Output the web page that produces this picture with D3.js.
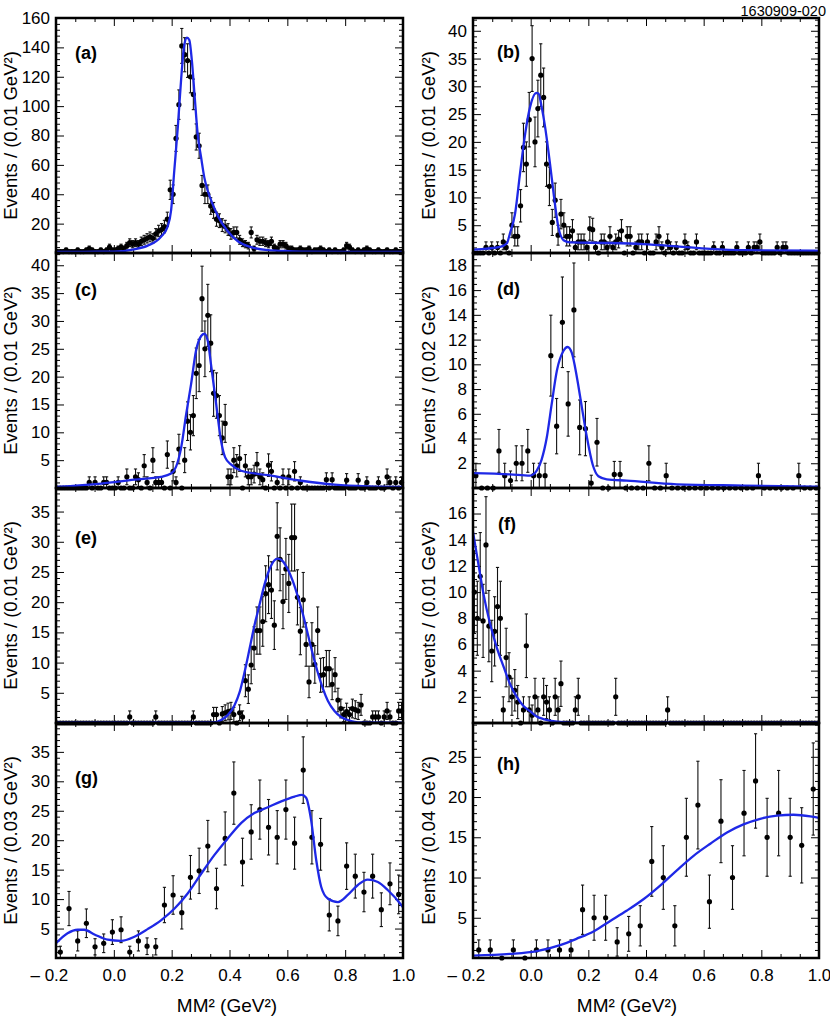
<!DOCTYPE html>
<html><head><meta charset="utf-8">
<script src="https://cdn.jsdelivr.net/npm/d3@7"></script>
<style>
body{margin:0;background:#fff;}
svg{display:block;font-family:"Liberation Sans",Arial,Helvetica,sans-serif;}
</style></head><body>
<svg id="chart" width="830" height="1019"></svg>
<script>
// ---------------- data ----------------
const xMajorTicks = [-0.2, 0.0, 0.2, 0.4, 0.6, 0.8, 1.0];
const xTickLabels = ["\u2013 0.2", "0.0", "0.2", "0.4", "0.6", "0.8", "1.0"];
const panelLetters = ["(a)", "(b)", "(c)", "(d)", "(e)", "(f)", "(g)", "(h)"];
const yTitles = [
  "Events / (0.01 GeV\u00B2)", "Events / (0.01 GeV\u00B2)",
  "Events / (0.01 GeV\u00B2)", "Events / (0.02 GeV\u00B2)",
  "Events / (0.01 GeV\u00B2)", "Events / (0.01 GeV\u00B2)",
  "Events / (0.03 GeV\u00B2)", "Events / (0.04 GeV\u00B2)"
];
const xTitle = "MM\u00B2 (GeV\u00B2)";
const figureCode = "1630909-020";

// bin contents, first bin starts at MM^2 = -0.2
const countsA = [1,1,1,2,1,1,1,2,1,1, 2,3,2,1,1,2,1,2,4,2, 2,3,4,3,5,7,6,7,6,8,
  9,10,11,10,13,15,16,18,23,43, 40,78,101,141,135,131,120,108,79,73,
  46,40,40,32,29,23,22,19,18,16, 13,14,14,9,7,6,5,14,3,9, 8,8,7,6,8,4,3,6,6,5,
  3,3,2,2,3,2,2,3,1,2, 2,3,2,1,2,1,2,1,1,2, 5,4,2,1,2,1,2,3,2,1, 1,2,1,1,2,1,1,2,1,1];
const countsB = [0,0,0,0,1,0,1,0,1,0, 2,1,0,5,3,3,8.5,19,16,24, 35,20,26,32,28,16,12,5.5,9.5,3.2,
  7,5,3,3,4,1,2,2,2,1, 4.4,4.2,1,0,2,2,1,3,1,2, 2.5,4,0,3,3,0,1,2,2,0,
  2,0,0,2,3,1,0,2,1,0, 1,0,0,2,1,0,0,2,0,0, 0,0,0,1,0,0,1,0,0,0,
  0,1,0,0,0,1,0,1,1,2, 0,0,0,0,0,1,0,1,1,0, 0,0,0,0,0,0,0,0,0,0];
const countsC = [0,0,0,0,0,0,0,0,0,0, 0,1,0,1,0,0,1,1,0,0, 0,1,0,0,2,0,0,2,1.5,0,
  4,1,0,5,1,1,1,0,6,0, 3,1,7,0,5,12,10,13,20.6,22, 34,25,31,26,17,16.6,13,9,11.6,2,
  2,5,4,5.3,0,4,2,2,2.5,4.3, 2,1.5,0,4.1,3,0,1,0,2,0, 2,0,3,0,1,0,0,0,0,0,
  0,0,0,1.5,0,1.5,0,0,0,0, 1.4,0,0,0,1.4,0,0,1,0,0, 0,1,0,0,2,1,0,1,0,1];
const countsD = [1,0,0,0,3,1,0.6,2,2,3, 1,1,1,10.7,5,13.4,6.8,14.4,4.9,4.8,
  0.4,3.7,0,0,1.1,1.1,0,0,0,0, 2,0,0,1,0,0,0,0,0,0, 0,0,0,0,0,0,0,0,0,1, 0,0,0,0,0,0,1,0,0,0];
const countsE = [0,0,0,0,0,0,0,0,0,0, 0,0,0,0,0,0,0,0,0,0, 0,0,0,0,0,1,0,0,0,0,
  0,0,0,0,1,0,0,0,0,0, 0,0,0,0,0,0,0,1,0,0, 0,0,0,0,1.4,1.4,0,1.5,1.7,1.9,
  2,1.4,0,1.7,1,7,5.6,9.6,12.4,15.3, 15.3,16.8,21.4,22.9,22,16.2,30.9,27.1,20.1,25.5,
  23.1,30.7,30.7,20.8,15.2,20.4,13,6.8,13,9.7, 15.3,7.9,8,9,9,6.4,8,3.8,2.4,1.4,
  1.9,1.4,2.4,2.2,2,3,0,0,0,1, 1,1,0,1,2,1,0,0,2,2];
const countsF = [10,8,11.2,7.8,13.6,7.4,5.5,7,8.9,8, 1,5,3.5,2,2.5,1.6,0,1,5.9,1,
  0.6,2,1,0,2,1.6,1,0,2,1, 3,0,0,0,0,1,2,0,0,0, 0,0,0,0,0,0,0,0,0,2,
  0,0,0,0,0,0,0,0,0,0, 0,0,0,0,0,0,0,1,0,0, 0,0,0,0,0,0,0,0,0,0,
  0,0,0,0,0,0,0,0,0,0, 0,0,0,0,0,0,0,0,0,0, 0,0,0,0,0,0,0,0,0,0, 0,0,0,0,0,0,0,0,0,0];
const countsG = [1,8.4,2.9,5.9,1.9,2.5,4.4,4.8,1,2.9, 2,1.9,9,10.7,7.7,13.7,14.8,19,11.8,20.3,
  28,16.3,21.4,25.2,22.2,20.5,25.2,19.5,31.9,20.5, 19.3,7.3,6.3,15.6,13.9,11.2,13.9,8.2,12.6,10.8];
const countsH = [1,1,0,1,0,1,1,1,1,6, 5,5,2,3,4,12,10,4,15,19, 7,17,10,18,22,15,18,15,14,21];

// fit curves [MM^2, events]
const curveA = [[-0.2,0.7],[-0.1,0.8],[0.0,0.9],[0.07,2.5],[0.117,5],[0.163,11],[0.186,18],[0.198,29],
  [0.209,56],[0.221,85],[0.233,119],[0.244,142],[0.253,146.6],[0.261,145],[0.270,130.7],[0.279,108],
  [0.290,80.8],[0.302,64.9],[0.313,51.3],[0.325,42.2],[0.342,33.1],[0.360,25.1],[0.394,14.8],
  [0.429,8],[0.475,4],[0.533,1.9],[0.590,1.4],[0.648,1.0],[0.8,0.8],[1.0,0.7]];
const curveB = [[-0.2,0.6],[-0.106,1.1],[-0.083,1.7],[-0.072,3.5],[-0.054,7.1],[-0.037,14.3],[-0.019,21.5],
  [-0.002,26.3],[0.019,28.8],[0.027,28.7],[0.038,26.3],[0.05,22.7],[0.067,16.1],[0.081,10.1],[0.096,4.7],
  [0.114,2.3],[0.137,1.9],[0.276,1.8],[0.391,1.6],[0.507,1.2],[0.623,0.75],[0.739,0.5],[1.0,0.4]];
const curveC = [[-0.2,0.2],[-0.044,0.8],[0.071,1.5],[0.163,2.0],[0.198,2.6],[0.215,3.8],[0.233,7.3],
  [0.25,13.2],[0.267,18.6],[0.284,24.6],[0.302,27.3],[0.313,27.7],[0.325,26.4],[0.336,22.2],[0.354,15],
  [0.371,8.4],[0.385,5.5],[0.406,4.2],[0.44,3.1],[0.533,2.3],[0.648,1.3],[0.763,0.6],[0.878,0.3],[1.0,0.2]];
const curveD = [[-0.2,1.2],[-0.072,1.1],[-0.002,1.0],[0.021,1.4],[0.038,2.3],[0.056,4.1],[0.073,6.8],
  [0.091,9.5],[0.114,11.1],[0.128,11.4],[0.143,10.9],[0.16,9.0],[0.177,6.6],[0.195,4.1],[0.215,1.9],
  [0.235,0.95],[0.264,0.7],[0.333,0.6],[0.507,0.3],[0.738,0.2],[1.0,0.1]];
const curveE = [[-0.2,0.05],[0.348,0.1],[0.371,0.5],[0.394,1.3],[0.417,2.9],[0.435,5.1],[0.452,8.4],
  [0.469,12.2],[0.486,16.1],[0.504,19.6],[0.521,22.9],[0.538,25.4],[0.555,26.9],[0.567,27.2],[0.584,26.8],
  [0.602,25.4],[0.619,23.5],[0.636,21],[0.654,18],[0.671,14.7],[0.688,11.4],[0.705,8.4],[0.723,5.7],
  [0.74,3.7],[0.763,2.0],[0.786,1.0],[0.809,0.5],[0.833,0.2],[0.856,0.1],[1.0,0.05]];
const curveF = [[-0.2,14.6],[-0.181,12.1],[-0.164,9.9],[-0.141,7.6],[-0.118,5.8],[-0.094,4.3],[-0.072,3.0],
  [-0.048,2.0],[-0.025,1.3],[-0.002,0.9],[0.021,0.5],[0.044,0.3],[0.091,0.1],[0.16,0.02],[1.0,0.02]];
const curveG = [[-0.2,2.5],[-0.16,4.2],[-0.125,4.8],[-0.102,4.8],[-0.067,4.0],[-0.021,3.1],[0.025,2.9],
  [0.071,3.6],[0.117,4.9],[0.163,6.4],[0.21,8.4],[0.256,11],[0.302,14.3],[0.348,17.5],[0.394,20.3],
  [0.44,22.9],[0.486,24.6],[0.533,25.6],[0.579,26.6],[0.625,27.4],[0.65,27.7],[0.665,27.2],[0.682,23.5],
  [0.7,16.6],[0.717,12.1],[0.74,10.1],[0.775,9.5],[0.809,10.7],[0.844,12.4],[0.878,13.3],[0.913,12.9],
  [0.948,11.5],[0.994,9.0],[1.0,8.6]];
const curveH = [[-0.2,0.3],[-0.072,0.5],[0.021,0.85],[0.102,1.6],[0.16,2.4],[0.218,3.3],[0.276,4.6],
  [0.334,5.9],[0.391,7.3],[0.449,9],[0.507,10.9],[0.565,12.7],[0.623,14.2],[0.681,15.6],[0.738,16.6],
  [0.796,17.3],[0.854,17.7],[0.912,17.8],[0.97,17.6],[1.0,17.4]];

// ---------------- layout ----------------
const FONT = '"Liberation Sans", Arial, Helvetica, sans-serif';
const colX = [[56, 403], [473, 819]];
const rowTop = [18, 253, 488, 723];
const rowH = 235;
const BLUE = "#1e28e6";

const panels = [
  {counts:countsA, bin:0.01, curve:curveA, yMax:160,   yMajor:20, yMinor:4,   err:1,    col:0, row:0, lx:75,  ly:58.5},
  {counts:countsB, bin:0.01, curve:curveB, yMax:42.3,  yMajor:5,  yMinor:1,   err:1,    col:1, row:0, lx:497, ly:58},
  {counts:countsC, bin:0.01, curve:curveC, yMax:42.2,  yMajor:5,  yMinor:1,   err:1,    col:0, row:1, lx:75,  ly:296},
  {counts:countsD, bin:0.02, curve:curveD, yMax:19,    yMajor:2,  yMinor:0.5, err:1,    col:1, row:1, lx:497, ly:295},
  {counts:countsE, bin:0.01, curve:curveE, yMax:38.9,  yMajor:5,  yMinor:1,   err:1,    col:0, row:2, lx:75,  ly:544},
  {counts:countsF, bin:0.01, curve:curveF, yMax:17.95, yMajor:2,  yMinor:0.5, err:1,    col:1, row:2, lx:498, ly:529.5},
  {counts:countsG, bin:0.03, curve:curveG, yMax:39.9,  yMajor:5,  yMinor:1,   err:1,    col:0, row:3, lx:75,  ly:784},
  {counts:countsH, bin:0.04, curve:curveH, yMax:29.2,  yMajor:5,  yMinor:1,   err:1.25, col:1, row:3, lx:497, ly:769.5}
];

const svg = d3.select("#chart");
svg.append("rect").attr("width",830).attr("height",1019).attr("fill","#fff");

const styleAxis = s => {
  s.select(".domain").remove();
  s.attr("font-family", FONT).attr("font-size", 17);
  s.selectAll("line").attr("stroke", "#000").attr("stroke-width", 1);
  s.selectAll("text").attr("fill", "#000");
};

panels.forEach((p, k) => {
  const [x0, x1] = colX[p.col];
  const yT = rowTop[p.row], yB = yT + rowH;
  const x = d3.scaleLinear().domain([-0.2, 1.0]).range([x0, x1]);
  const y = d3.scaleLinear().domain([0, p.yMax]).range([yB, yT]);
  const g = svg.append("g");

  g.append("clipPath").attr("id", "cp" + k).append("rect")
    .attr("x", x0).attr("y", yT).attr("width", x1 - x0).attr("height", rowH);

  const yAll = d3.range(0, p.yMax + 1e-9, p.yMinor);
  const isMaj = v => Math.abs(v / p.yMajor - Math.round(v / p.yMajor)) < 1e-6;
  const yMaj = yAll.filter(isMaj), yMin = yAll.filter(v => !isMaj(v));
  const xAll = d3.range(19).map(i => -0.2 + i * 0.2 / 3);
  const xMin = xAll.filter((v, i) => i % 3 !== 0);

  // left axis (labels)
  g.append("g").attr("transform", `translate(${x0},0)`)
    .call(d3.axisLeft(y).tickValues(yMaj.filter(v => v > 0)).tickSizeInner(-8).tickSizeOuter(0)
      .tickPadding(6).tickFormat(d3.format("d"))).call(styleAxis);
  g.append("g").attr("transform", `translate(${x0},0)`)
    .call(d3.axisLeft(y).tickValues(yMin).tickSizeInner(-4).tickSizeOuter(0).tickFormat("")).call(styleAxis);
  // right axis
  g.append("g").attr("transform", `translate(${x1},0)`)
    .call(d3.axisRight(y).tickValues(yMaj).tickSizeInner(-8).tickSizeOuter(0).tickFormat("")).call(styleAxis);
  g.append("g").attr("transform", `translate(${x1},0)`)
    .call(d3.axisRight(y).tickValues(yMin).tickSizeInner(-4).tickSizeOuter(0).tickFormat("")).call(styleAxis);
  // top axis
  g.append("g").attr("transform", `translate(0,${yT})`)
    .call(d3.axisTop(x).tickValues(xMajorTicks).tickSizeInner(-8).tickSizeOuter(0).tickFormat("")).call(styleAxis);
  g.append("g").attr("transform", `translate(0,${yT})`)
    .call(d3.axisTop(x).tickValues(xMin).tickSizeInner(-4).tickSizeOuter(0).tickFormat("")).call(styleAxis);
  // bottom axis
  const bottom = g.append("g").attr("transform", `translate(0,${yB})`)
    .call(d3.axisBottom(x).tickValues(xMajorTicks).tickSizeInner(-8).tickSizeOuter(0).tickPadding(11)
      .tickFormat(p.row === 3 ? ((d, i) => xTickLabels[i]) : "")).call(styleAxis);
  bottom.selectAll("text").filter(d => d < 0).attr("dx", "-0.42em");
  g.append("g").attr("transform", `translate(0,${yB})`)
    .call(d3.axisBottom(x).tickValues(xMin).tickSizeInner(-4).tickSizeOuter(0).tickFormat("")).call(styleAxis);

  // data points
  const pts = p.counts.map((n, i) => ({xc: -0.2 + p.bin * (i + 0.5), n}));
  const withErr = pts.filter(d => d.n > 0).map(d => {
    const e = p.err * Math.sqrt(d.n);
    return {xc: d.xc, lo: Math.max(0, d.n - e), hi: d.n + e};
  });
  const eb = g.append("g").attr("stroke", "#111").attr("stroke-width", 1.1);
  eb.selectAll("line.v").data(withErr).join("line").attr("class", "v")
    .attr("x1", d => x(d.xc)).attr("x2", d => x(d.xc)).attr("y1", d => y(d.lo)).attr("y2", d => y(d.hi));
  eb.selectAll("line.t").data(withErr).join("line").attr("class", "t")
    .attr("x1", d => x(d.xc) - 1.6).attr("x2", d => x(d.xc) + 1.6).attr("y1", d => y(d.hi)).attr("y2", d => y(d.hi));
  eb.selectAll("line.b").data(withErr.filter(d => d.lo > 0)).join("line").attr("class", "b")
    .attr("x1", d => x(d.xc) - 1.6).attr("x2", d => x(d.xc) + 1.6).attr("y1", d => y(d.lo)).attr("y2", d => y(d.lo));
  g.append("g").selectAll("circle").data(pts).join("circle")
    .attr("cx", d => x(d.xc)).attr("cy", d => y(d.n)).attr("r", 2.6).attr("fill", "#000");

  // fit curve
  g.append("path").datum(p.curve).attr("clip-path", `url(#cp${k})`)
    .attr("fill", "none").attr("stroke", BLUE).attr("stroke-width", 2.3)
    .attr("d", d3.line().x(d => x(d[0])).y(d => y(d[1])).curve(d3.curveMonotoneX));

  // frame
  g.append("rect").attr("x", x0).attr("y", yT).attr("width", x1 - x0).attr("height", rowH)
    .attr("fill", "none").attr("stroke", "#000").attr("stroke-width", 2.5);

  // panel letter
  g.append("text").attr("x", p.lx).attr("y", p.ly).attr("font-family", FONT)
    .attr("font-weight", "bold").attr("font-size", 18).attr("fill", "#000").text(panelLetters[k]);

  // y title
  svg.append("text")
    .attr("transform", `translate(${p.col ? 435 : 17},${yT + rowH / 2}) rotate(-90)`)
    .attr("text-anchor", "middle").attr("font-family", FONT).attr("font-size", 18.5).attr("fill", "#000")
    .text(yTitles[k]);
});

// x titles
[227, 627].forEach(cx => {
  svg.append("text").attr("x", cx).attr("y", 1012).attr("text-anchor", "middle")
    .attr("font-family", FONT).attr("font-size", 19).attr("fill", "#000").text(xTitle);
});

// figure code
svg.append("text").attr("x", 826).attr("y", 15.5).attr("text-anchor", "end")
  .attr("font-family", FONT).attr("font-size", 14.5).attr("fill", "#000").text(figureCode);
</script>
</body></html>
